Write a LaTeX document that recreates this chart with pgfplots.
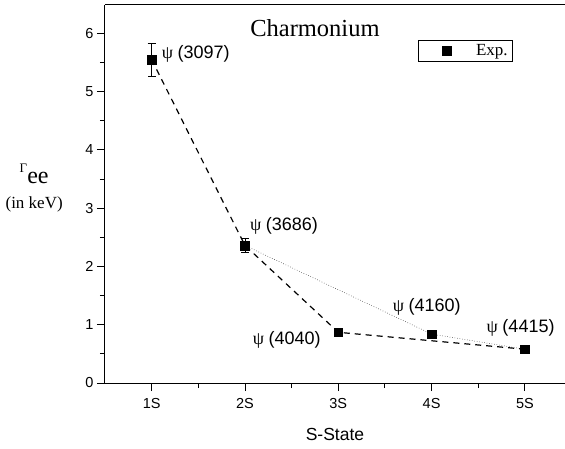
\documentclass[border=0pt]{standalone}
\usepackage{pgfplots}
\pgfplotsset{compat=1.18}
\usepackage{fontspec}
\setmainfont{Liberation Serif}
\setsansfont{Liberation Sans}

\newcommand{\lab}[1]{{\fontsize{18}{18}\selectfont ψ \sffamily(#1)}}

\begin{document}
\begin{tikzpicture}
\useasboundingbox (-105pt,-65pt) rectangle (460pt,383pt);
\begin{axis}[
    at={(0,0)}, anchor=south west,
    width=460pt, height=378pt, scale only axis,
    xmin=0.5, xmax=5.43, ymin=0, ymax=6.486,
    axis lines*=left,
    axis line style={line width=1pt},
    tick align=outside,
    major tick length=8pt, minor tick length=5pt,
    every tick/.style={black, line width=0.9pt},
    xtick={1,2,3,4,5}, xticklabels={1S,2S,3S,4S,5S},
    minor x tick num=1,
    ytick={0,1,2,3,4,5,6}, minor y tick num=1,
    ticklabel style={font=\sffamily\fontsize{14.5}{14.5}\selectfont},
    xticklabel style={yshift=-4pt},
    /pgf/number format/assume math mode=true,
    xlabel={S-State},
    xlabel style={font=\sffamily\fontsize{17.5}{17.5}\selectfont,
        at={(axis description cs:0.5,0)}, anchor=center, yshift=-51pt},
    ylabel={{\fontsize{13}{13}\selectfont\raisebox{11pt}{Γ}}{\fontsize{24}{24}\selectfont ee}\\[12pt]{\fontsize{17}{17}\selectfont (in keV)}},
    ylabel style={rotate=-90, align=center, anchor=center,
        at={(axis description cs:-0.154,0.517)}},
    clip=false,
    legend style={at={(rel axis cs:0.680,0.907)}, anchor=north west,
        draw=black, line width=0.6pt, inner xsep=3pt, inner ysep=3pt,
        font=\fontsize{17}{17}\selectfont,
        nodes={inner xsep=2pt, inner ysep=1pt},
        /tikz/every even column/.append style={column sep=0pt}},
    legend image code/.code={
        \path[draw=none] (0pt,0pt) -- (53pt,0pt);
        \draw[mark=square*, mark size=4.4pt, black] plot coordinates {(26pt,0pt)};},
]
% connecting lines
\addplot[black, line width=1.2pt, dash pattern=on 6pt off 5pt, forget plot]
    coordinates {(1,5.55) (2,2.36) (3,0.87) (5,0.58)};
\addplot[black, line width=0.5pt, dotted, forget plot]
    coordinates {(2,2.36) (4,0.84) (5,0.58)};
% measurements
\addplot[black, only marks, mark=square*, mark size=4.3pt,
    error bars/.cd, y dir=both, y explicit,
    error bar style={line width=0.7pt},
    error mark options={rotate=90, mark size=4pt, line width=0.7pt}]
    coordinates {(1,5.55) +- (0,0.28) (2,2.36) +- (0,0.12) (3,0.87) (4,0.84) (5,0.58)};
\legend{Exp.}
\draw[line width=1pt] (rel axis cs:0,1) -- (rel axis cs:1,1);
\node[anchor=base, inner sep=0pt, font=\fontsize{24.5}{24.5}\selectfont] at (axis cs:2.75,5.937) {Charmonium};
\node[anchor=base west, inner sep=0pt] at (axis cs:1.107,5.57) {\lab{3097}};
\node[anchor=base west, inner sep=0pt] at (axis cs:2.053,2.613) {\lab{3686}};
\node[anchor=base west, inner sep=0pt] at (axis cs:2.082,0.669) {\lab{4040}};
\node[anchor=base west, inner sep=0pt] at (axis cs:3.582,1.223) {\lab{4160}};
\node[anchor=base west, inner sep=0pt] at (axis cs:4.589,0.87) {\lab{4415}};
\end{axis}
\end{tikzpicture}
\end{document}
